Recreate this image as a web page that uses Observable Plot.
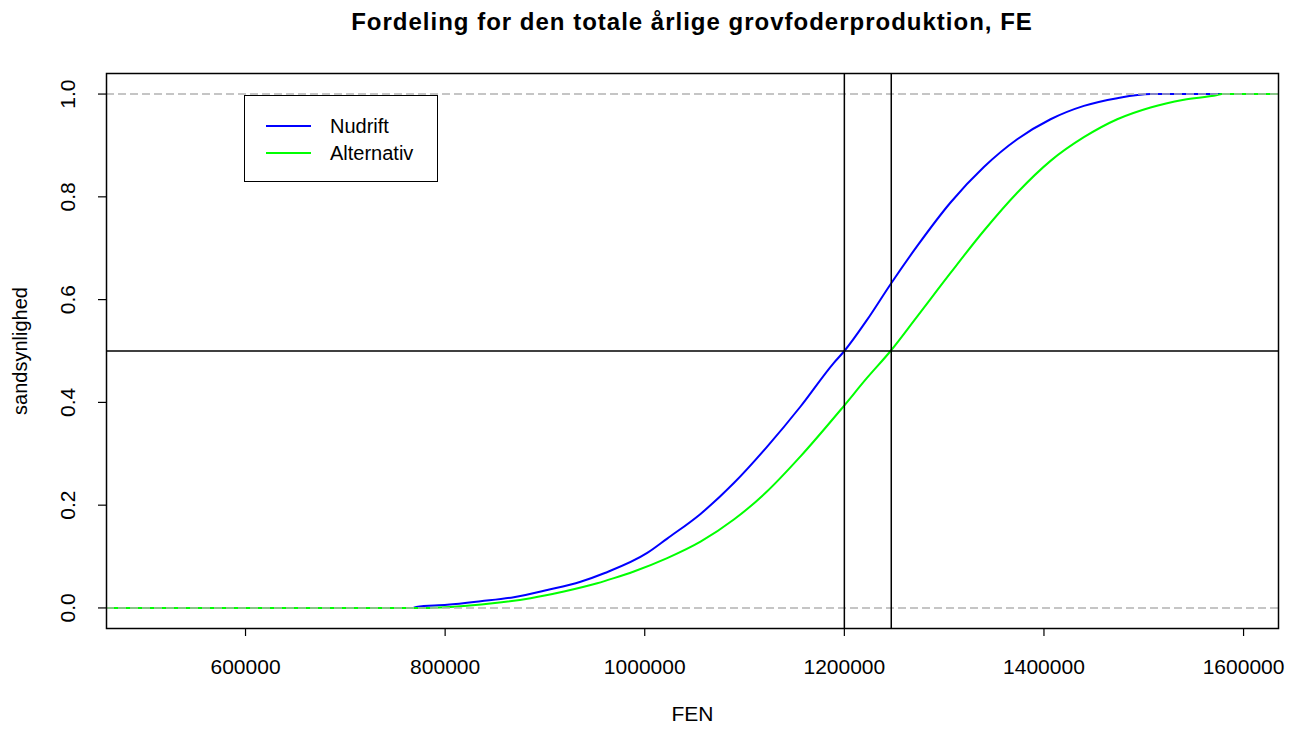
<!DOCTYPE html>
<html>
<head>
<meta charset="utf-8">
<script src="https://cdn.jsdelivr.net/npm/d3@7"></script>
<script src="https://cdn.jsdelivr.net/npm/@observablehq/plot@0.6"></script>
<style>
  body { margin: 0; background: #fff; }
  #wrap { position: relative; width: 1296px; height: 736px; font-family: "Liberation Sans", Arial, sans-serif; color: #000; }
  #title { height: 50px; box-sizing: border-box; padding: 10px 18px 0 106px; text-align: center; font-weight: bold; font-size: 24px; line-height: 24px; letter-spacing: 1px; }
  #legend { position: absolute; left: 244px; top: 95px; width: 194px; height: 87px; box-sizing: border-box; border: 1px solid #000; background: #fff; }
  .li { position: absolute; left: 21px; width: 45px; height: 2px; }
  .lt { position: absolute; left: 85px; font-size: 20px; line-height: 20px; }
</style>
</head>
<body>
<div id="wrap">
  <div id="title">Fordeling for den totale årlige grovfoderproduktion, FE</div>
  <div id="chart"></div>
  <div id="legend">
    <div class="li" style="top:29px;background:#0000ff"></div>
    <div class="lt" style="top:20px">Nudrift</div>
    <div class="li" style="top:56px;background:#00ff00"></div>
    <div class="lt" style="top:47px">Alternativ</div>
  </div>
</div>
<script>
// Nudrift ECDF (FEN, probability)
const nudriftX = [460000, 768000, 771000, 802000, 835500, 868800, 902300, 935700, 960000, 1002500, 1022500, 1055900, 1089300, 1122700, 1156100, 1189500, 1200000, 1222900, 1246300, 1272900, 1306400, 1339800, 1373200, 1406600, 1440000, 1473400, 1506800, 1640000];
const nudriftP = [0, 0, 0.002, 0.006, 0.013, 0.021, 0.035, 0.051, 0.068, 0.107, 0.135, 0.183, 0.243, 0.314, 0.392, 0.477, 0.5, 0.561, 0.630, 0.704, 0.789, 0.858, 0.912, 0.951, 0.977, 0.992, 1.0, 1.0];
// Alternativ ECDF
const altX = [460000, 776000, 818800, 852200, 885600, 919000, 952400, 969100, 989100, 1022500, 1055900, 1089300, 1122700, 1156100, 1197800, 1222900, 1246300, 1272900, 1306400, 1339800, 1373200, 1406600, 1440000, 1473400, 1506800, 1540200, 1573600, 1578000, 1640000];
const altP = [0, 0, 0.004, 0.010, 0.019, 0.032, 0.048, 0.058, 0.071, 0.097, 0.129, 0.172, 0.227, 0.295, 0.389, 0.448, 0.5, 0.567, 0.652, 0.734, 0.808, 0.870, 0.916, 0.951, 0.974, 0.989, 0.998, 1.0, 1.0];
// reference lines (medians and 0.5)
const medians = [1200000, 1247000];
const halfLine = [0.5];
const bounds = [0, 1];
const xTicks = [600000, 800000, 1000000, 1200000, 1400000, 1600000];
const yTicks = [0, 0.2, 0.4, 0.6, 0.8, 1.0];
const yTickLabels = ["0.0", "0.2", "0.4", "0.6", "0.8", "1.0"];
const xLabel = "FEN";
const yLabel = "sandsynlighed";

const nudrift = nudriftX.map((x, i) => ({x, p: nudriftP[i]}));
const alt = altX.map((x, i) => ({x, p: altP[i]}));
const yTickData = yTicks.map((v, i) => ({v, t: yTickLabels[i]}));

const chart = Plot.plot({
  width: 1296,
  height: 686,
  marginLeft: 106,
  marginRight: 18,
  marginTop: 23,
  marginBottom: 108,
  style: {fontFamily: "'Liberation Sans', Arial, sans-serif", fontSize: "21px", color: "#000", background: "#fff", overflow: "visible"},
  x: {domain: [460700, 1635000]},
  y: {domain: [-0.04, 1.04]},
  marks: [
    Plot.line(nudrift, {x: "x", y: "p", stroke: "#0000ff", strokeWidth: 2, curve: "monotone-x", clip: true}),
    Plot.line(alt, {x: "x", y: "p", stroke: "#00ff00", strokeWidth: 2, curve: "monotone-x", clip: true}),
    Plot.ruleY(bounds, {stroke: "#b3b3b3", strokeWidth: 1.5, strokeDasharray: "8,4"}),
    Plot.ruleX(medians, {stroke: "#000", strokeWidth: 1.5}),
    Plot.ruleY(halfLine, {stroke: "#000", strokeWidth: 1.5}),
    Plot.frame({stroke: "#000", strokeWidth: 1.5}),
    Plot.axisX({ticks: xTicks, tickSize: 8, tickPadding: 23, tickFormat: d => String(d), label: null, strokeWidth: 1.2, fontSize: 21}),
    Plot.axisY({ticks: yTicks, tickSize: 8, tickFormat: () => "", label: null, strokeWidth: 1.2}),
    Plot.text(yTickData, {y: "v", text: "t", frameAnchor: "left", dx: -38, rotate: -90, textAnchor: "middle", fontSize: 21}),
    Plot.text([yLabel], {text: d => d, frameAnchor: "left", dx: -86, rotate: -90, textAnchor: "middle", fontSize: 20}),
    Plot.text([xLabel], {text: d => d, frameAnchor: "bottom", dy: 92, textAnchor: "middle", fontSize: 21})
  ]
});
document.getElementById("chart").appendChild(chart);
</script>
</body>
</html>
